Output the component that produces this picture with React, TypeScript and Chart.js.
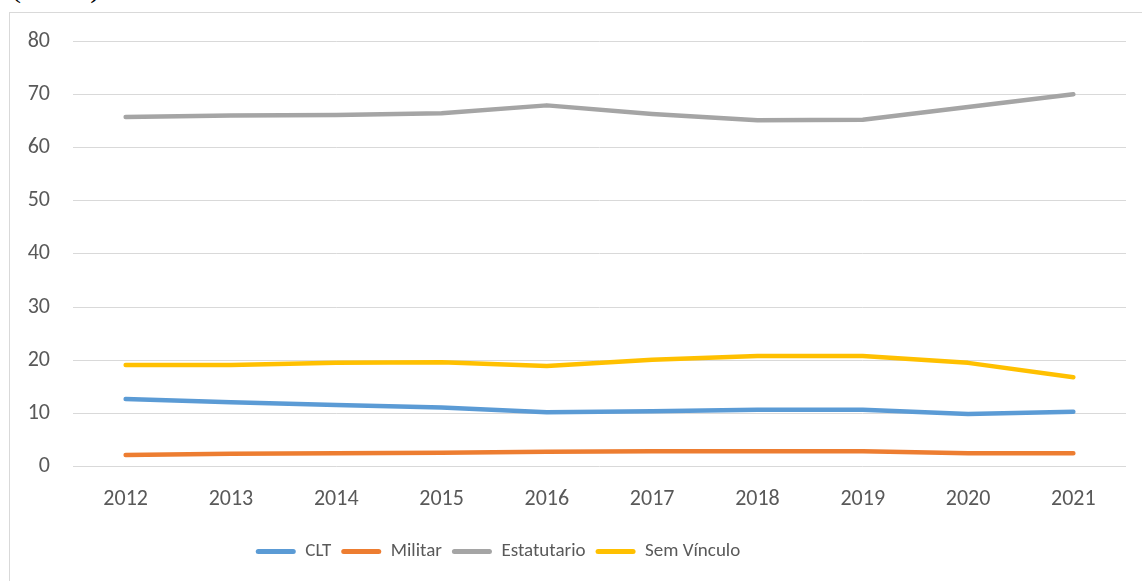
import React, { useEffect, useRef } from "react";
import { Chart, registerables } from "chart.js";

Chart.register(...registerables);

const years = ["2012", "2013", "2014", "2015", "2016", "2017", "2018", "2019", "2020", "2021"];
const clt = [12.7, 12.1, 11.6, 11.1, 10.2, 10.4, 10.7, 10.7, 9.9, 10.3];
const militar = [2.2, 2.4, 2.5, 2.6, 2.8, 2.9, 2.9, 2.9, 2.5, 2.5];
const estatutario = [65.7, 66.0, 66.1, 66.4, 67.9, 66.3, 65.1, 65.2, 67.6, 70.0];
const semVinculo = [19.1, 19.1, 19.5, 19.6, 18.9, 20.1, 20.8, 20.8, 19.5, 16.8];
const seriesNames = ["CLT", "Militar", "Estatutario", "Sem Vínculo"];
const seriesColors = ["#5B9BD5", "#ED7D31", "#A5A5A5", "#FFC000"];

const FONT = "Carlito, Lato, 'Open Sans', sans-serif";

const legendShift = {
  id: "legendShift",
  afterLayout(chart: any) {
    const lg = chart.legend;
    if (lg) {
      const center = 488;
      const half = 600;
      lg.left = center - half;
      lg.right = center + half;
    }
  },
};

export default function App() {
  const ref = useRef<HTMLCanvasElement | null>(null);
  useEffect(() => {
    if (!ref.current) return;
    const data = [clt, militar, estatutario, semVinculo];
    const chart = new Chart(ref.current, {
      type: "line",
      data: {
        labels: years,
        datasets: seriesNames.map((n, i) => ({
          label: n,
          data: data[i],
          borderColor: seriesColors[i],
          backgroundColor: seriesColors[i],
          borderWidth: 4.5,
          pointRadius: 0,
          tension: 0,
          borderCapStyle: "round" as const,
          borderJoinStyle: "round" as const,
        })),
      },
      options: {
        animation: false,
        responsive: false,
        layout: { padding: { left: 0, right: 34, top: 28, bottom: 22 } },
        scales: {
          x: {
            offset: true,
            grid: { display: false, drawTicks: false },
            border: { display: false },
            ticks: { color: "#595959", font: { family: FONT, size: 22 }, padding: 20 },
            afterFit: (s: any) => {
              s.height -= 1;
            },
          },
          y: {
            min: 0,
            max: 80,
            grid: { color: "#d9d9d9", lineWidth: 1, drawTicks: false },
            border: { display: false },
            ticks: { stepSize: 10, color: "#595959", font: { family: FONT, size: 22 }, padding: 23 },
            afterFit: (s: any) => {
              s.width = 63;
              s.paddingTop = 0;
              s.paddingBottom = 0;
            },
          },
        },
        plugins: {
          tooltip: { enabled: false },
          legend: {
            position: "bottom",
            labels: {
              color: "#595959",
              font: { family: FONT, size: 19 },
              boxWidth: 40,
              boxHeight: 5,
              padding: 10,
              useBorderRadius: true,
              borderRadius: 2.5,
              generateLabels: (c: any) => {
                const items = Chart.defaults.plugins.legend.labels.generateLabels(c);
                return items.map((it: any) => ({ ...it, lineWidth: 0, strokeStyle: it.fillStyle }));
              },
            },
          },
        },
      },
      plugins: [legendShift],
    });
    return () => chart.destroy();
  }, []);

  return (
    <div style={{ position: "fixed", left: 0, top: 0, width: 1142, height: 581, overflow: "hidden", background: "#fff" }}>
      <div
        style={{
          position: "absolute",
          left: 11,
          top: -28,
          fontFamily: "'Liberation Serif', serif",
          fontSize: 30,
          lineHeight: "30px",
          color: "#000",
          whiteSpace: "nowrap",
        }}
      >
        (em %)
      </div>
      <div
        style={{
          position: "absolute",
          left: 9,
          top: 12,
          width: 1150,
          height: 580,
          border: "1px solid #d9d9d9",
          background: "#fff",
        }}
      >
        <canvas ref={ref} width={1150} height={580} style={{ display: "block" }} />
      </div>
    </div>
  );
}
